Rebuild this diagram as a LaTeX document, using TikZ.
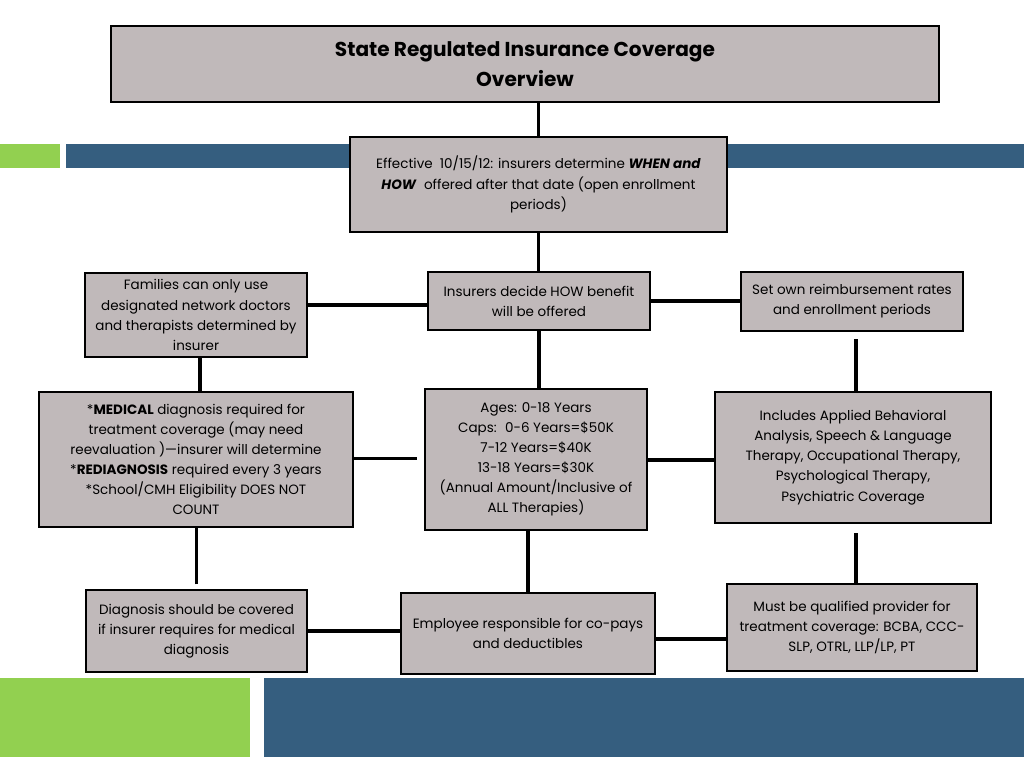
\documentclass[tikz,border=0pt]{standalone}
\usepackage{fontspec}
\setmainfont{Poppins}
\usepackage{tikz}
\usetikzlibrary{positioning,calc}
\definecolor{boxgray}{RGB}{192,185,186}
\definecolor{slidegreen}{RGB}{146,208,80}
\definecolor{slideblue}{RGB}{53,94,127}
\tikzset{infobox/.style={draw=black, line width=1.3pt, fill=boxgray, align=center, inner sep=2pt, font=\fontsize{9.6}{14.3}\selectfont}}
\tikzset{link/.style={draw, line width=2.6pt}}

\begin{document}
\begin{tikzpicture}[x=0.025cm, y=-0.025cm]
\useasboundingbox (0,0) rectangle (1024,768);
% slide decoration
\fill[slidegreen] (0,144) rectangle (60,168);
\fill[slideblue] (66,144) rectangle (1024,168);
\fill[slidegreen] (0,678) rectangle (250,757);
\fill[slideblue] (264,678) rectangle (1024,757);
% boxes
\node[infobox, minimum width=828*0.025cm, minimum height=76*0.025cm, font=\fontsize{14.3}{21.5}\selectfont\bfseries] at (525,64) (title)
	{State Regulated Insurance Coverage\\Overview};
\node[infobox, minimum width=377*0.025cm, minimum height=95*0.025cm] at (538.5,184.5) (eff)
	{Effective~ 10/15/12: insurers determine \textbf{\itshape WHEN and}\\
	\textbf{\itshape HOW}~ offered after that date (open enrollment\\periods)};
\node[infobox, minimum width=222*0.025cm, minimum height=58*0.025cm] at (539,301) (how)
	{Insurers decide HOW benefit\\will be offered};
\node[infobox, minimum width=222*0.025cm, minimum height=84*0.025cm] at (196,315) (fam)
	{Families can only use\\designated network doctors\\and therapists determined by\\insurer};
\node[infobox, minimum width=222*0.025cm, minimum height=59*0.025cm] at (852,301.5) (own)
	{Set own reimbursement rates\\and enrollment periods};
\node[infobox, minimum width=314*0.025cm, minimum height=135*0.025cm] at (196,459.5) (med)
	{*\textbf{MEDICAL} diagnosis required for\\treatment coverage (may need\\
	reevaluation )---insurer will determine\\*\textbf{REDIAGNOSIS} required every 3 years\\
	*School/CMH Eligibility DOES NOT\\COUNT};
\node[infobox, minimum width=222*0.025cm, minimum height=141*0.025cm] at (536,459.5) (ages)
	{Ages: 0-18 Years\\Caps:~ 0-6 Years=\$50K\\7-12 Years=\$40K\\13-18 Years=\$30K\\
	(Annual Amount/Inclusive of\\ALL Therapies)};
\node[infobox, minimum width=276*0.025cm, minimum height=131*0.025cm] at (853,457.5) (incl)
	{Includes Applied Behavioral\\Analysis, Speech \& Language\\Therapy, Occupational Therapy,\\
	Psychological Therapy,\\Psychiatric Coverage};
\node[infobox, minimum width=221*0.025cm, minimum height=82*0.025cm] at (196.5,631) (diag)
	{Diagnosis should be covered\\if insurer requires for medical\\diagnosis};
\node[infobox, minimum width=254*0.025cm, minimum height=81*0.025cm] at (528,633.5) (emp)
	{Employee responsible for co-pays\\and deductibles};
\node[infobox, minimum width=250*0.025cm, minimum height=87*0.025cm] at (852,627.5) (must)
	{Must be qualified provider for\\treatment coverage: BCBA, CCC-\\SLP, OTRL, LLP/LP, PT};
% connectors
\draw[link] (eff.north) -- (eff.north |- title.south);
\draw[link] (eff.south) -- (eff.south |- how.north);
\draw[link] ([yshift=-4*0.025cm]how.west) -- ([yshift=-4*0.025cm]how.west -| fam.east);
\draw[link] (how.east) -- (how.east -| own.west);
\draw[link] ([xshift=4*0.025cm]fam.south) -- ([xshift=4*0.025cm]fam.south |- med.north);
\draw[link] (how.south) -- (how.south |- ages.north);
\draw[link, shorten <=0.18cm] ([xshift=4*0.025cm]own.south) -- ([xshift=4*0.025cm]own.south |- incl.north);
\draw[link, shorten >=0.18cm] ([yshift=1*0.025cm]med.east) -- ([yshift=1*0.025cm]med.east -| ages.west);
\draw[link] ([yshift=-0.5*0.025cm]ages.east) -- ([yshift=-0.5*0.025cm]ages.east -| incl.west);
\draw[link, shorten <=0.12cm] (diag.north) -- (diag.north |- med.south);
\draw[link] (emp.north) -- (emp.north |- ages.south);
\draw[link, shorten >=0.22cm] ([xshift=4*0.025cm]must.north) -- ([xshift=4*0.025cm]must.north |- incl.south);
\draw[link] (diag.east) -- (diag.east -| emp.west);
\draw[link] ([yshift=-5.5*0.025cm]emp.east) -- ([yshift=-5.5*0.025cm]emp.east -| must.west);
\end{tikzpicture}
\end{document}
